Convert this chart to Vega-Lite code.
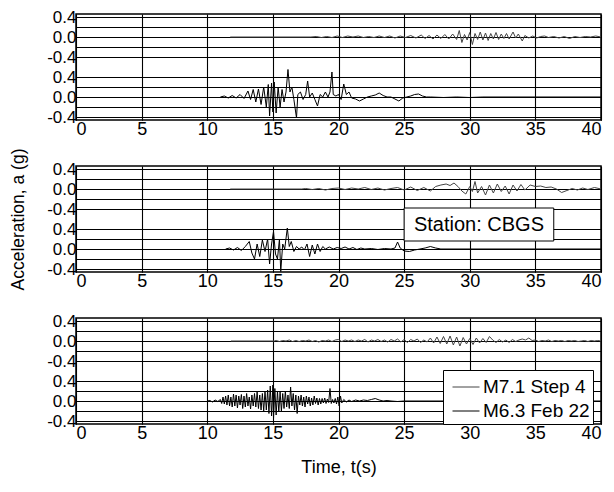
{
"$schema":"https://vega.github.io/schema/vega-lite/v6.json",
"padding":{"left":8,"top":7,"right":3,"bottom":5},
"bounds":"flush",
"config":{
 "font":"Liberation Sans",
 "view":{"stroke":"black","strokeWidth":1.5},
 "axis":{"labelFont":"Liberation Sans","labelFontSize":17,"labelColor":"black","titleFont":"Liberation Sans","titleFontSize":17.5,"titleFontWeight":"normal","titleColor":"black","gridColor":"black","gridOpacity":1,"gridWidth":1.1,"tickColor":"black","tickSize":-4,"domain":false,"labelPadding":4},
 "axisX":{"labelFontSize":18,"titleFontSize":18},
 "concat":{"spacing":46},
 "legend":{"orient":"none","legendX":367,"legendY":356,"title":null,"strokeColor":"black","fillColor":"white","padding":3,"symbolOffset":6,"symbolType":"stroke","symbolSize":729,"symbolStrokeWidth":1,"labelFont":"Liberation Sans","labelFontSize":19,"labelColor":"black","rowPadding":-4,"cornerRadius":0,"labelOffset":3}
},
"datasets":{
"p1u":[{"t":11.75,"a":0},{"t":17.9,"a":0},{"t":18.3,"a":0.01},{"t":18.7,"a":-0.01},{"t":19.1,"a":0.01},{"t":19.5,"a":-0.01},{"t":19.9,"a":0.02},{"t":20.3,"a":-0.01},{"t":20.7,"a":0.02},{"t":21.1,"a":0},{"t":21.5,"a":0.02},{"t":21.9,"a":-0.01},{"t":22.3,"a":0.01},{"t":22.7,"a":-0.01},{"t":23.1,"a":0.02},{"t":23.5,"a":-0.01},{"t":23.9,"a":0.02},{"t":24.3,"a":-0.02},{"t":24.7,"a":0.02},{"t":25.1,"a":-0.01},{"t":25.5,"a":0.03},{"t":25.9,"a":-0.02},{"t":26.3,"a":0.04},{"t":26.6,"a":-0.03},{"t":26.9,"a":0.03},{"t":27.2,"a":-0.04},{"t":27.5,"a":0.04},{"t":27.8,"a":-0.03},{"t":28.1,"a":0.05},{"t":28.4,"a":-0.04},{"t":28.7,"a":0.06},{"t":29.0,"a":-0.05},{"t":29.2,"a":0.13},{"t":29.4,"a":-0.11},{"t":29.6,"a":0.05},{"t":29.8,"a":-0.06},{"t":30.0,"a":0.09},{"t":30.2,"a":-0.15},{"t":30.4,"a":0.07},{"t":30.6,"a":-0.05},{"t":30.8,"a":0.1},{"t":31.0,"a":-0.06},{"t":31.2,"a":0.08},{"t":31.4,"a":-0.07},{"t":31.6,"a":0.07},{"t":31.8,"a":-0.04},{"t":32.0,"a":0.09},{"t":32.2,"a":-0.05},{"t":32.4,"a":0.06},{"t":32.6,"a":-0.03},{"t":32.8,"a":0.07},{"t":33.0,"a":-0.04},{"t":33.3,"a":0.1},{"t":33.5,"a":-0.02},{"t":33.7,"a":0.06},{"t":34.0,"a":-0.08},{"t":34.2,"a":0.03},{"t":34.5,"a":-0.02},{"t":34.8,"a":0.02},{"t":35.1,"a":-0.02},{"t":35.4,"a":0.01},{"t":35.7,"a":0.02},{"t":36.0,"a":-0.01},{"t":36.4,"a":0.01},{"t":36.8,"a":-0.02},{"t":37.2,"a":0.01},{"t":37.6,"a":-0.03},{"t":38.0,"a":0.01},{"t":38.4,"a":-0.01},{"t":38.8,"a":0.01},{"t":39.2,"a":0},{"t":39.6,"a":0.02},{"t":40,"a":0}],
"p1l":[{"t":11.0,"a":0},{"t":11.3,"a":0.02},{"t":11.6,"a":-0.02},{"t":11.9,"a":0.03},{"t":12.2,"a":-0.02},{"t":12.5,"a":0.05},{"t":12.8,"a":-0.03},{"t":13.1,"a":0.12},{"t":13.3,"a":-0.05},{"t":13.5,"a":0.15},{"t":13.7,"a":-0.1},{"t":13.9,"a":0.16},{"t":14.1,"a":-0.15},{"t":14.3,"a":0.2},{"t":14.5,"a":-0.2},{"t":14.65,"a":0.25},{"t":14.75,"a":-0.38},{"t":14.9,"a":0.28},{"t":15.0,"a":-0.3},{"t":15.1,"a":0.3},{"t":15.25,"a":-0.32},{"t":15.4,"a":0.2},{"t":15.55,"a":-0.2},{"t":15.7,"a":0.15},{"t":15.85,"a":-0.1},{"t":16.0,"a":0.1},{"t":16.15,"a":0.55},{"t":16.3,"a":0.1},{"t":16.45,"a":0.2},{"t":16.6,"a":-0.05},{"t":16.8,"a":-0.42},{"t":16.9,"a":0.05},{"t":17.1,"a":0.1},{"t":17.3,"a":-0.05},{"t":17.5,"a":0.05},{"t":17.65,"a":0.32},{"t":17.8,"a":0.0},{"t":18.0,"a":0.08},{"t":18.2,"a":-0.05},{"t":18.4,"a":-0.18},{"t":18.6,"a":0.05},{"t":18.8,"a":0.0},{"t":19.0,"a":0.1},{"t":19.2,"a":0.0},{"t":19.35,"a":0.1},{"t":19.5,"a":0.5},{"t":19.6,"a":0.05},{"t":19.8,"a":0.02},{"t":20.0,"a":0.05},{"t":20.2,"a":-0.05},{"t":20.4,"a":0.26},{"t":20.6,"a":0.05},{"t":20.8,"a":0.1},{"t":21.0,"a":-0.02},{"t":21.3,"a":-0.04},{"t":21.6,"a":-0.08},{"t":21.9,"a":-0.04},{"t":22.2,"a":0.0},{"t":22.5,"a":0.02},{"t":22.8,"a":0.04},{"t":23.1,"a":0.08},{"t":23.4,"a":0.03},{"t":23.7,"a":0.0},{"t":24.0,"a":0.0},{"t":24.3,"a":-0.04},{"t":24.6,"a":-0.08},{"t":24.9,"a":-0.02},{"t":25.2,"a":0.0},{"t":25.5,"a":0.02},{"t":25.8,"a":0.05},{"t":26.1,"a":0.06},{"t":26.4,"a":0.02},{"t":26.7,"a":0.0},{"t":27.0,"a":0.0},{"t":28.0,"a":-0.01},{"t":29.0,"a":0.0},{"t":30.0,"a":-0.01},{"t":31.0,"a":0.0},{"t":40,"a":0}],
"p2u":[{"t":11.75,"a":0},{"t":17.2,"a":0},{"t":17.5,"a":0.01},{"t":18,"a":-0.01},{"t":18.5,"a":0.01},{"t":19,"a":-0.02},{"t":19.5,"a":0.01},{"t":20,"a":0.02},{"t":20.5,"a":-0.01},{"t":21,"a":0.02},{"t":21.5,"a":0},{"t":22,"a":0.03},{"t":22.5,"a":-0.01},{"t":23,"a":0.02},{"t":23.5,"a":-0.02},{"t":24,"a":0.01},{"t":24.5,"a":0.03},{"t":25,"a":-0.02},{"t":25.5,"a":0.04},{"t":26,"a":-0.03},{"t":26.5,"a":0.03},{"t":27,"a":-0.04},{"t":27.4,"a":0.05},{"t":27.8,"a":0.08},{"t":28.2,"a":0.1},{"t":28.5,"a":0.07},{"t":28.8,"a":0.12},{"t":29.1,"a":0.05},{"t":29.4,"a":-0.04},{"t":29.7,"a":-0.1},{"t":30.0,"a":0.05},{"t":30.2,"a":-0.05},{"t":30.4,"a":0.15},{"t":30.6,"a":-0.08},{"t":30.9,"a":0.05},{"t":31.2,"a":-0.12},{"t":31.5,"a":0.08},{"t":31.8,"a":-0.08},{"t":32.1,"a":0.1},{"t":32.4,"a":-0.05},{"t":32.7,"a":0.06},{"t":33.0,"a":-0.1},{"t":33.3,"a":0.08},{"t":33.6,"a":-0.04},{"t":33.9,"a":0.09},{"t":34.2,"a":-0.02},{"t":34.6,"a":0.08},{"t":35,"a":0.05},{"t":35.4,"a":0.06},{"t":35.8,"a":0.03},{"t":36.2,"a":0.04},{"t":36.6,"a":0.0},{"t":37.0,"a":-0.07},{"t":37.4,"a":-0.03},{"t":37.8,"a":0.01},{"t":38.2,"a":-0.02},{"t":38.6,"a":0.02},{"t":39,"a":-0.01},{"t":39.5,"a":0.03},{"t":40,"a":0}],
"p2l":[{"t":11.4,"a":0},{"t":11.7,"a":0.02},{"t":12.0,"a":-0.02},{"t":12.3,"a":0.03},{"t":12.6,"a":-0.03},{"t":12.9,"a":0.05},{"t":13.2,"a":0.15},{"t":13.4,"a":-0.08},{"t":13.6,"a":-0.2},{"t":13.8,"a":0.1},{"t":14.0,"a":-0.15},{"t":14.2,"a":0.18},{"t":14.4,"a":-0.05},{"t":14.6,"a":0.2},{"t":14.75,"a":-0.3},{"t":14.9,"a":0.1},{"t":15.05,"a":0.35},{"t":15.2,"a":-0.1},{"t":15.35,"a":-0.2},{"t":15.5,"a":0.2},{"t":15.6,"a":-0.45},{"t":15.75,"a":0.1},{"t":15.9,"a":0.0},{"t":16.1,"a":0.42},{"t":16.25,"a":0.05},{"t":16.4,"a":0.15},{"t":16.6,"a":-0.05},{"t":16.8,"a":0.05},{"t":17.0,"a":0.0},{"t":17.2,"a":0.04},{"t":17.4,"a":-0.02},{"t":17.6,"a":0.1},{"t":17.8,"a":-0.15},{"t":18.0,"a":0.08},{"t":18.2,"a":-0.1},{"t":18.4,"a":0.1},{"t":18.6,"a":-0.05},{"t":18.8,"a":0.05},{"t":19.0,"a":0.0},{"t":19.3,"a":0.04},{"t":19.6,"a":0.0},{"t":19.9,"a":0.03},{"t":20.2,"a":0.01},{"t":20.5,"a":0.04},{"t":20.8,"a":0.0},{"t":21.1,"a":0.03},{"t":21.4,"a":-0.01},{"t":21.7,"a":0.02},{"t":22,"a":0.0},{"t":22.5,"a":0.01},{"t":23,"a":-0.01},{"t":23.5,"a":0.01},{"t":24.0,"a":0.0},{"t":24.3,"a":0.02},{"t":24.5,"a":0.14},{"t":24.7,"a":0.02},{"t":25.0,"a":-0.04},{"t":25.4,"a":-0.05},{"t":25.8,"a":-0.02},{"t":26.2,"a":0.0},{"t":26.6,"a":0.02},{"t":27.0,"a":0.05},{"t":27.4,"a":0.02},{"t":27.8,"a":0.0},{"t":40,"a":0}],
"p3u":[{"t":11.8,"a":0},{"t":15.1,"a":0},{"t":15.25,"a":0.01},{"t":15.5,"a":-0.01},{"t":15.75,"a":0.01},{"t":16,"a":0},{"t":16.25,"a":0.02},{"t":16.5,"a":-0.01},{"t":16.75,"a":0.01},{"t":17,"a":-0.01},{"t":17.25,"a":0.01},{"t":17.5,"a":0},{"t":17.75,"a":0.02},{"t":18,"a":-0.01},{"t":18.25,"a":0.01},{"t":18.5,"a":-0.02},{"t":18.75,"a":0.01},{"t":19,"a":0},{"t":19.25,"a":0.02},{"t":19.5,"a":-0.01},{"t":19.75,"a":0.02},{"t":20,"a":0.03},{"t":20.25,"a":-0.01},{"t":20.5,"a":0.02},{"t":20.75,"a":0},{"t":21,"a":0.02},{"t":21.25,"a":-0.01},{"t":21.5,"a":0.02},{"t":21.75,"a":0},{"t":22,"a":0.03},{"t":22.25,"a":-0.02},{"t":22.5,"a":0.02},{"t":22.75,"a":0},{"t":23,"a":0.03},{"t":23.25,"a":-0.01},{"t":23.5,"a":0.02},{"t":23.75,"a":-0.02},{"t":24,"a":0.03},{"t":24.25,"a":0},{"t":24.5,"a":0.04},{"t":24.75,"a":-0.02},{"t":25,"a":0.03},{"t":25.25,"a":-0.03},{"t":25.5,"a":0.03},{"t":25.75,"a":0},{"t":26,"a":0.04},{"t":26.25,"a":-0.03},{"t":26.5,"a":0.02},{"t":26.75,"a":-0.02},{"t":27,"a":0.06},{"t":27.25,"a":-0.04},{"t":27.5,"a":0.08},{"t":27.75,"a":-0.05},{"t":28,"a":0.09},{"t":28.25,"a":-0.06},{"t":28.5,"a":0.1},{"t":28.75,"a":-0.08},{"t":29,"a":0.08},{"t":29.25,"a":-0.1},{"t":29.5,"a":0.07},{"t":29.75,"a":-0.06},{"t":30,"a":0.05},{"t":30.25,"a":-0.07},{"t":30.5,"a":0.06},{"t":30.75,"a":-0.04},{"t":31,"a":0.05},{"t":31.25,"a":-0.03},{"t":31.5,"a":0.09},{"t":31.75,"a":0.02},{"t":32,"a":-0.03},{"t":32.25,"a":0.03},{"t":32.5,"a":-0.02},{"t":32.75,"a":0.02},{"t":33,"a":-0.03},{"t":33.25,"a":0.03},{"t":33.5,"a":-0.01},{"t":33.75,"a":0.02},{"t":34,"a":0.04},{"t":34.25,"a":0.02},{"t":34.5,"a":0.06},{"t":34.75,"a":0.01},{"t":35,"a":0.02},{"t":35.25,"a":-0.01},{"t":35.5,"a":0.01},{"t":35.75,"a":0},{"t":36,"a":0.02},{"t":36.25,"a":-0.01},{"t":36.5,"a":0.01},{"t":36.75,"a":0},{"t":37,"a":0.01},{"t":37.25,"a":-0.01},{"t":37.5,"a":0.01},{"t":37.75,"a":0},{"t":38,"a":0.01},{"t":38.25,"a":-0.01},{"t":38.5,"a":0},{"t":38.75,"a":0.01},{"t":39,"a":-0.01},{"t":39.25,"a":0.01},{"t":39.5,"a":0},{"t":39.75,"a":0.01},{"t":40,"a":0}],
"p3l":[{"t":10,"a":0},{"t":10.2,"a":0.01},{"t":10.4,"a":-0.02},{"t":10.6,"a":0.02},{"t":10.8,"a":-0.01},{"t":11.0,"a":0.03},{"t":11.1,"a":-0.05},{"t":11.2,"a":0.08},{"t":11.3,"a":-0.06},{"t":11.4,"a":0.1},{"t":11.5,"a":-0.08},{"t":11.6,"a":0.12},{"t":11.7,"a":-0.1},{"t":11.8,"a":0.08},{"t":11.9,"a":-0.12},{"t":12.0,"a":0.14},{"t":12.1,"a":-0.1},{"t":12.2,"a":0.12},{"t":12.3,"a":-0.14},{"t":12.4,"a":0.1},{"t":12.5,"a":-0.08},{"t":12.6,"a":0.13},{"t":12.7,"a":-0.15},{"t":12.8,"a":0.1},{"t":12.9,"a":-0.12},{"t":13.0,"a":0.15},{"t":13.1,"a":-0.1},{"t":13.2,"a":0.08},{"t":13.3,"a":-0.16},{"t":13.4,"a":0.12},{"t":13.5,"a":-0.1},{"t":13.6,"a":0.15},{"t":13.7,"a":-0.12},{"t":13.8,"a":0.18},{"t":13.9,"a":-0.15},{"t":14.0,"a":0.12},{"t":14.1,"a":-0.18},{"t":14.2,"a":0.15},{"t":14.3,"a":-0.2},{"t":14.4,"a":0.2},{"t":14.5,"a":-0.18},{"t":14.6,"a":0.22},{"t":14.7,"a":-0.25},{"t":14.8,"a":0.3},{"t":14.9,"a":-0.3},{"t":15.0,"a":0.32},{"t":15.05,"a":-0.35},{"t":15.15,"a":0.25},{"t":15.25,"a":-0.28},{"t":15.35,"a":0.2},{"t":15.45,"a":-0.22},{"t":15.55,"a":0.18},{"t":15.65,"a":-0.2},{"t":15.75,"a":0.15},{"t":15.85,"a":-0.15},{"t":15.95,"a":0.2},{"t":16.05,"a":-0.12},{"t":16.15,"a":0.12},{"t":16.25,"a":-0.15},{"t":16.35,"a":0.28},{"t":16.45,"a":-0.1},{"t":16.55,"a":0.15},{"t":16.65,"a":-0.18},{"t":16.75,"a":0.12},{"t":16.85,"a":-0.25},{"t":16.95,"a":0.1},{"t":17.05,"a":-0.08},{"t":17.15,"a":0.12},{"t":17.25,"a":-0.1},{"t":17.35,"a":0.08},{"t":17.45,"a":-0.12},{"t":17.55,"a":0.1},{"t":17.65,"a":-0.06},{"t":17.75,"a":0.08},{"t":17.85,"a":-0.1},{"t":17.95,"a":0.06},{"t":18.05,"a":-0.08},{"t":18.15,"a":0.1},{"t":18.25,"a":-0.05},{"t":18.35,"a":0.06},{"t":18.45,"a":-0.08},{"t":18.55,"a":0.05},{"t":18.65,"a":-0.06},{"t":18.75,"a":0.05},{"t":18.85,"a":-0.04},{"t":18.95,"a":0.06},{"t":19.05,"a":-0.05},{"t":19.15,"a":0.04},{"t":19.25,"a":-0.03},{"t":19.35,"a":0.25},{"t":19.45,"a":-0.05},{"t":19.55,"a":0.03},{"t":19.65,"a":-0.04},{"t":19.75,"a":0.05},{"t":19.85,"a":-0.06},{"t":19.95,"a":0.08},{"t":20.05,"a":-0.1},{"t":20.15,"a":0.1},{"t":20.25,"a":-0.04},{"t":20.4,"a":0.03},{"t":20.6,"a":-0.02},{"t":20.8,"a":0.02},{"t":21.0,"a":-0.01},{"t":21.3,"a":0.02},{"t":21.6,"a":0},{"t":21.9,"a":0.02},{"t":22.2,"a":0.01},{"t":22.5,"a":0.03},{"t":22.8,"a":0.05},{"t":23.1,"a":0.02},{"t":23.4,"a":0},{"t":23.7,"a":0.01},{"t":24.0,"a":0},{"t":24.5,"a":-0.01},{"t":25,"a":0},{"t":40,"a":0}]
},
"vconcat":[
{"width":525,"height":106,
 "layer":[
  {"data":{"name":"p1u"},"mark":{"type":"line","strokeWidth":1},
   "encoding":{
    "x":{"field":"t","type":"quantitative","scale":{"domain":[0,40],"nice":false},"axis":{"values":[0,5,10,15,20,25,30,35,40],"grid":true,"title":null}},
    "y":{"field":"a","type":"quantitative","scale":{"domain":[-1.66,0.46],"nice":false,"zero":false},"axis":{"orient":"left","values":[-0.4,-0.2,0,0.2,0.4],"labelExpr":"datum.value < -0.3 ? '-0.4' : datum.value > 0.3 ? '0.4' : datum.value == 0 ? '0.0' : ''","labelOverlap":false,"title":null,"grid":true}},
    "color":{"datum":"M7.1 Step 4","type":"nominal","scale":{"domain":["M7.1 Step 4","M6.3 Feb 22"],"range":["#444444","#000000"]}}}},
  {"data":{"name":"p1l"},"mark":{"type":"line","strokeWidth":1},
   "encoding":{
    "x":{"field":"t","type":"quantitative"},
    "y":{"field":"a","type":"quantitative","scale":{"domain":[-0.46,1.66],"nice":false,"zero":false},"axis":{"orient":"left","values":[-0.4,-0.2,0,0.2,0.4],"labelExpr":"datum.value < -0.3 ? '-0.4' : datum.value > 0.3 ? '0.4' : datum.value == 0 ? '0.0' : ''","labelOverlap":false,"title":null,"grid":true}},
    "color":{"datum":"M6.3 Feb 22","type":"nominal"}}}
 ],
 "resolve":{"scale":{"y":"independent"}}
},
{"width":525,"height":106,
 "layer":[
  {"data":{"name":"p2u"},"mark":{"type":"line","strokeWidth":1},
   "encoding":{
    "x":{"field":"t","type":"quantitative","scale":{"domain":[0,40],"nice":false},"axis":{"values":[0,5,10,15,20,25,30,35,40],"grid":true,"title":null}},
    "y":{"field":"a","type":"quantitative","scale":{"domain":[-1.66,0.46],"nice":false,"zero":false},"axis":{"orient":"left","values":[-0.4,-0.2,0,0.2,0.4],"labelExpr":"datum.value < -0.3 ? '-0.4' : datum.value > 0.3 ? '0.4' : datum.value == 0 ? '0.0' : ''","labelOverlap":false,"title":"Acceleration, a (g)","titlePadding":19,"grid":true}},
    "color":{"datum":"M7.1 Step 4","type":"nominal"}}},
  {"data":{"name":"p2l"},"mark":{"type":"line","strokeWidth":1},
   "encoding":{
    "x":{"field":"t","type":"quantitative"},
    "y":{"field":"a","type":"quantitative","scale":{"domain":[-0.46,1.66],"nice":false,"zero":false},"axis":{"orient":"left","values":[-0.4,-0.2,0,0.2,0.4],"labelExpr":"datum.value < -0.3 ? '-0.4' : datum.value > 0.3 ? '0.4' : datum.value == 0 ? '0.0' : ''","labelOverlap":false,"title":null,"grid":true}},
    "color":{"datum":"M6.3 Feb 22","type":"nominal"}}},
  {"data":{"values":[{}]},"mark":{"type":"rect","fill":"white","stroke":"black","strokeWidth":1},
   "encoding":{
    "x":{"datum":25,"type":"quantitative"},"x2":{"datum":36.4},
    "y":{"datum":0.82,"type":"quantitative","scale":{"domain":[-0.46,1.66],"nice":false,"zero":false},"axis":null},"y2":{"datum":0.16}}},
  {"data":{"values":[{}]},"mark":{"type":"text","text":"Station: CBGS","fontSize":20,"font":"Liberation Sans","color":"black"},
   "encoding":{
    "x":{"datum":30.7,"type":"quantitative"},
    "y":{"datum":0.49,"type":"quantitative","scale":{"domain":[-0.46,1.66],"nice":false,"zero":false},"axis":null}}}
 ],
 "resolve":{"scale":{"y":"independent"}}
},
{"width":525,"height":106,
 "layer":[
  {"data":{"name":"p3u"},"mark":{"type":"line","strokeWidth":1},
   "encoding":{
    "x":{"field":"t","type":"quantitative","scale":{"domain":[0,40],"nice":false},"axis":{"values":[0,5,10,15,20,25,30,35,40],"grid":true,"title":"Time, t(s)","titlePadding":16}},
    "y":{"field":"a","type":"quantitative","scale":{"domain":[-1.66,0.46],"nice":false,"zero":false},"axis":{"orient":"left","values":[-0.4,-0.2,0,0.2,0.4],"labelExpr":"datum.value < -0.3 ? '-0.4' : datum.value > 0.3 ? '0.4' : datum.value == 0 ? '0.0' : ''","labelOverlap":false,"title":null,"grid":true}},
    "color":{"datum":"M7.1 Step 4","type":"nominal"}}},
  {"data":{"name":"p3l"},"mark":{"type":"line","strokeWidth":1},
   "encoding":{
    "x":{"field":"t","type":"quantitative"},
    "y":{"field":"a","type":"quantitative","scale":{"domain":[-0.46,1.66],"nice":false,"zero":false},"axis":{"orient":"left","values":[-0.4,-0.2,0,0.2,0.4],"labelExpr":"datum.value < -0.3 ? '-0.4' : datum.value > 0.3 ? '0.4' : datum.value == 0 ? '0.0' : ''","labelOverlap":false,"title":null,"grid":true}},
    "color":{"datum":"M6.3 Feb 22","type":"nominal"}}}
 ],
 "resolve":{"scale":{"y":"independent"}}
}
]
}
